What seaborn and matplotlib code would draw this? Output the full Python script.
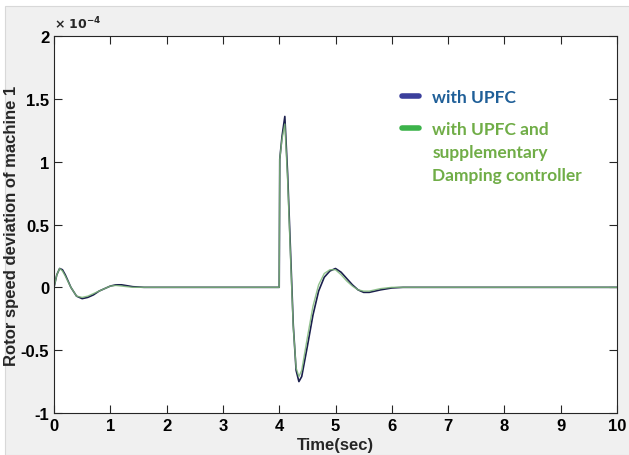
import numpy as np
import pandas as pd
import matplotlib
matplotlib.use("Agg")
import matplotlib.pyplot as plt
from matplotlib.lines import Line2D
from matplotlib.patches import Rectangle
import seaborn as sns

# values, speed deviation in units of 1e-4
t_upfc = [0, 0.05, 0.1, 0.15, 0.2, 0.3, 0.4, 0.5, 0.6, 0.7, 0.8, 0.9, 1.0, 1.1, 1.2,
          1.4, 1.6, 2.0, 3.0, 4.0, 4.01, 4.05, 4.1, 4.15, 4.2, 4.25, 4.3, 4.35, 4.4,
          4.5, 4.6, 4.7, 4.8, 4.9, 5.0, 5.1, 5.2, 5.3, 5.4, 5.5, 5.6, 5.8, 6.0, 6.2,
          7.0, 10.0]
w_upfc = [0, 0.10, 0.15, 0.14, 0.10, 0.0, -0.07, -0.09, -0.08, -0.06, -0.03, -0.01,
          0.01, 0.02, 0.02, 0.005, 0, 0, 0, 0, 1.02, 1.20, 1.36, 0.90, 0.30, -0.30,
          -0.66, -0.75, -0.71, -0.47, -0.22, -0.03, 0.08, 0.13, 0.15, 0.12, 0.07,
          0.02, -0.02, -0.04, -0.04, -0.02, -0.005, 0, 0, 0]

t_damp = [0, 0.05, 0.1, 0.15, 0.2, 0.3, 0.4, 0.5, 0.6, 0.7, 0.8, 0.9, 1.0, 1.1, 1.2,
          1.4, 1.6, 2.0, 3.0, 4.0, 4.01, 4.05, 4.1, 4.15, 4.2, 4.25, 4.3, 4.35, 4.4,
          4.5, 4.6, 4.7, 4.8, 4.9, 5.0, 5.1, 5.2, 5.3, 5.4, 5.5, 5.6, 5.8, 6.0, 6.2,
          7.0, 10.0]
w_damp = [0, 0.10, 0.15, 0.13, 0.09, 0.0, -0.07, -0.08, -0.07, -0.05, -0.03, -0.01,
          0.01, 0.015, 0.01, 0.0, 0, 0, 0, 0, 1.02, 1.18, 1.30, 0.85, 0.25, -0.32,
          -0.64, -0.71, -0.66, -0.40, -0.15, 0.02, 0.11, 0.14, 0.14, 0.10, 0.05,
          0.01, -0.02, -0.03, -0.03, -0.01, 0, 0, 0, 0]

cases = ["with UPFC", "with UPFC and supplementary Damping controller"]
label2_lines = ["with UPFC and", "supplementary", "Damping controller"]
yticks = [-1, -0.5, 0, 0.5, 1, 1.5, 2]
ytick_labels = ["-1", "-0.5", "0", "0.5", "1", "1.5", "2"]

df = pd.concat([
    pd.DataFrame({"t": t_upfc, "w": w_upfc, "case": cases[0]}),
    pd.DataFrame({"t": t_damp, "w": w_damp, "case": cases[1]}),
], ignore_index=True)

sns.set_style("ticks")
plt.rcParams["font.family"] = ["Liberation Sans", "DejaVu Sans"]

fig = plt.figure(figsize=(6.29, 4.56), dpi=100)
fig.patch.set_facecolor("white")
fig.patches.append(Rectangle((5 / 629, 0), 1, 1 - 7 / 456, transform=fig.transFigure,
                             facecolor="#f0f0f0", edgecolor="#d8d8d8", lw=0.8, zorder=-1))
ax = fig.add_axes([54 / 629, 1 - 414 / 456, 563 / 629, 377 / 456])
ax.set_facecolor("white")

sns.lineplot(data=df, x="t", y="w", hue="case", palette=["#1b1f4d", "#7fb87a"],
             linewidth=1.2, legend=False, ax=ax, estimator=None, sort=False)
ax.lines[1].set_linewidth(1.0)
ax.lines[1].set_alpha(0.85)

ax.set_xlim(0, 10)
ax.set_ylim(-1, 2)
ax.set_xticks(range(0, 11))
ax.set_yticks(yticks)
ax.set_yticklabels(ytick_labels)
ax.tick_params(direction="in", top=True, right=True, length=6, width=0.8,
               labelsize=12, colors="#262626")
for lab in ax.get_xticklabels() + ax.get_yticklabels():
    lab.set_fontweight("bold")
    lab.set_color("black")
for s in ax.spines.values():
    s.set_color("#262626")
    s.set_linewidth(0.8)

ax.set_xlabel("Time(sec)", fontsize=12, fontweight="bold", labelpad=3)
ax.set_ylabel("Rotor speed deviation of machine 1", fontsize=12, fontweight="bold",
              labelpad=1)
ax.text(0, 1.012, r"$\mathbf{\times\ 10^{-4}}$", transform=ax.transAxes,
        fontsize=9, ha="left", va="bottom")

legprop = {"family": "Lato", "weight": "bold", "size": 12.5}
blank = Line2D([], [], color="none")
leg1 = ax.legend([Line2D([], [], color="#3b3f9c", lw=4, solid_capstyle="round")],
                 [cases[0]], loc="upper left", bbox_to_anchor=(0.618, 0.859),
                 frameon=False, borderpad=0, borderaxespad=0, handlelength=1.0,
                 handletextpad=0.75, prop=legprop)
leg1.get_texts()[0].set_color("#1f5f98")
ax.add_artist(leg1)
leg2 = ax.legend([Line2D([], [], color="#3cb34a", lw=4, solid_capstyle="round"),
                  blank, blank], label2_lines,
                 loc="upper left", bbox_to_anchor=(0.618, 0.775), frameon=False,
                 borderpad=0, borderaxespad=0, handlelength=1.0, handletextpad=0.75,
                 labelspacing=0.4, prop=legprop)
for txt in leg2.get_texts():
    txt.set_color("#70ad47")

fig.savefig("out.png", dpi=100, facecolor=fig.get_facecolor())
